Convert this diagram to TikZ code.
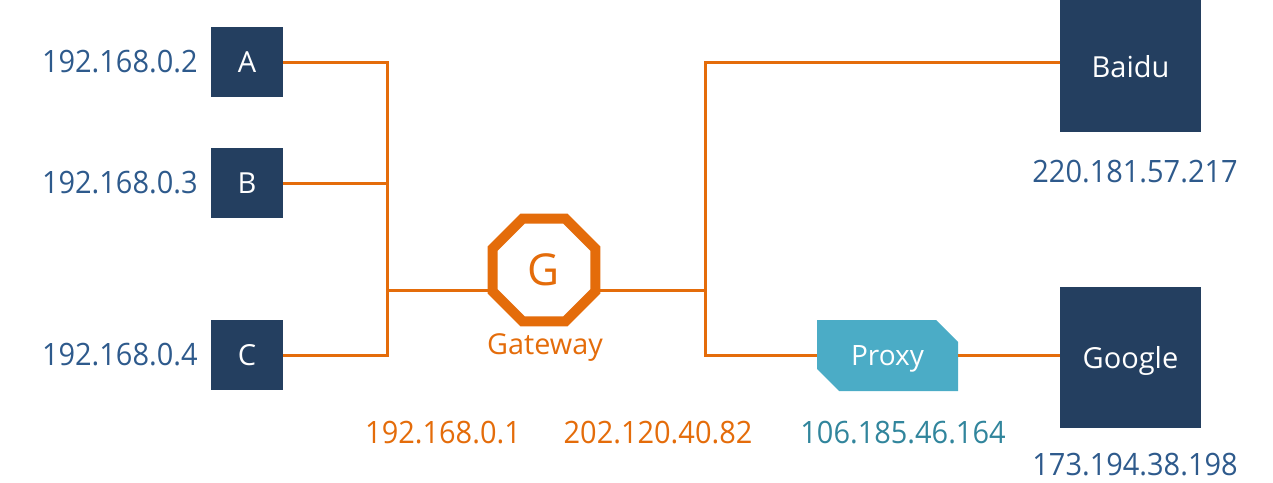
\documentclass[tikz,border=0pt]{standalone}
\usepackage{fontspec}
\setmainfont{Open Sans}
\newfontfamily\ipfont{Open Sans}[FakeStretch=0.94]
\usetikzlibrary{shapes.geometric, shapes.misc}
\definecolor{navy}{HTML}{243F60}
\definecolor{ipBlue}{HTML}{2E5A8C}
\definecolor{gwOrange}{HTML}{E46C0A}
\definecolor{proxyTeal}{HTML}{4BACC6}
\definecolor{tealText}{HTML}{31859C}

\begin{document}
\begin{tikzpicture}[x=0.5pt,y=-0.5pt,
  wire/.style={draw=gwOrange,line width=1.5pt},
  host/.style={fill=navy,text=white,minimum width=36pt,minimum height=35pt,
    inner sep=0pt,text depth=0pt,font=\fontsize{14.5}{16}\selectfont},
  server/.style={host,minimum width=70.5pt},
  ip/.style={font=\ipfont\fontsize{15.4}{18}\selectfont,text=ipBlue,inner sep=0pt}]
  \useasboundingbox (0,0) rectangle (1273,482);
  % hosts on the LAN
  \node[host] (A) at (247,62)  {A};
  \node[host] (B) at (247,183) {B};
  \node[host] (C) at (247,355) {C};
  \node[ip,anchor=east] (ipA) at (198,62)  {192.168.0.2};
  \node[ip,anchor=east] (ipB) at (198,183) {192.168.0.3};
  \node[ip,anchor=east] (ipC) at (198,355) {192.168.0.4};
  % gateway
  \node[regular polygon,regular polygon sides=8,draw=gwOrange,line width=5pt,
    fill=white,minimum size=55.7pt,inner sep=0pt,text=gwOrange,
    font=\fontsize{22}{24}\selectfont] (G) at (544,270) {G};
  \node[text=gwOrange,inner sep=0pt,font=\fontsize{14.4}{16}\selectfont]
    (gwlabel) at (545,348) {Gateway};
  % servers and proxy
  \node[server,minimum height=66pt]   (Baidu)  at (1130.5,66)    {Baidu};
  \node[server,minimum height=70.5pt] (Google) at (1130.5,357.5) {Google};
  \node[chamfered rectangle,chamfered rectangle corners={north east,south west},
    chamfered rectangle xsep=6pt,chamfered rectangle ysep=6pt,fill=proxyTeal,
    text=white,minimum width=70.5pt,minimum height=35.5pt,inner sep=0pt,
    text depth=0pt,font=\fontsize{14}{16}\selectfont] (Proxy) at (887.5,355.5) {Proxy};
  \node[ip] (baiduip)  at (1135,172) {220.181.57.217};
  \node[ip] (googleip) at (1135,465) {173.194.38.198};
  % addresses under the links
  \node[ip,text=gwOrange]  (lanip)   at (443,433) {192.168.0.1};
  \node[ip,text=gwOrange]  (wanip)   at (658,433) {202.120.40.82};
  \node[ip,text=tealText]  (proxyip) at (903,433) {106.185.46.164};
  % wires
  \coordinate (LT) at (387,62);  \coordinate (LM) at (387,290);
  \coordinate (LB) at (387,355);
  \coordinate (RT) at (705,62);  \coordinate (RM) at (705,290);
  \coordinate (RB) at (705,355);
  \draw[wire] (A) -- (LT) -- (LB) -- (C);
  \draw[wire] (B) -- (B -| LT);
  \draw[wire] (LM) -- (LM -| G.west);
  \draw[wire] (G.east |- RM) -- (RM);
  \draw[wire] (RT -| Baidu.west) -- (RT) -- (RB) -- (RB -| Proxy.west);
  \draw[wire] (Proxy.east) -- (Proxy.east -| Google.west);
\end{tikzpicture}
\end{document}
